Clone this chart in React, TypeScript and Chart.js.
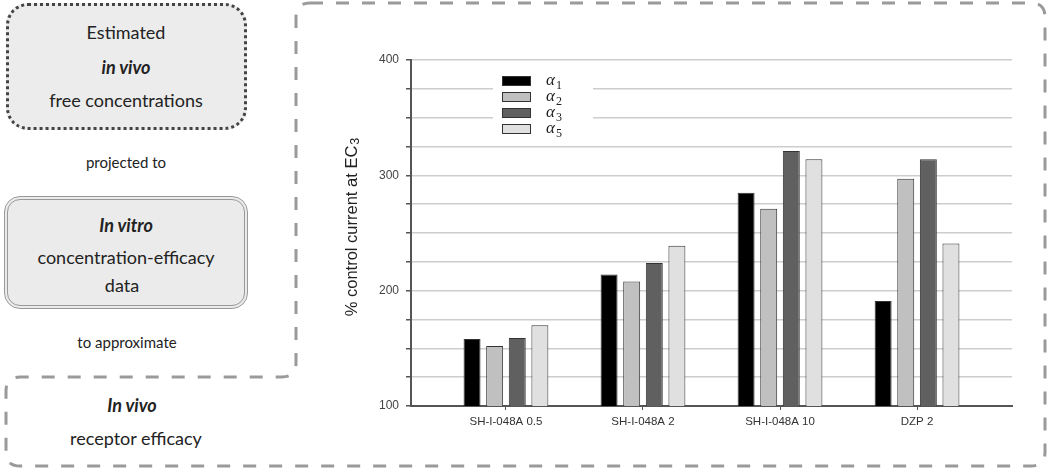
import React, { useEffect, useRef } from "react";
import { Chart, registerables } from "chart.js";

Chart.register(...registerables);

const categories = ["SH-I-048A 0.5", "SH-I-048A 2", "SH-I-048A 10", "DZP 2"];
const seriesNames = ["1", "2", "3", "5"];
const alpha1 = [158, 214, 285, 191];
const alpha2 = [152, 208, 271, 297];
const alpha3 = [159, 224, 321, 314];
const alpha5 = [170, 239, 314, 241];
const seriesColors = ["#000000", "#c0c0c0", "#606060", "#e0e0e0"];
const yTickLabels = [100, 200, 300, 400];

const legendPlugin = {
  id: "customLegend",
  afterDatasetsDraw(chart: any) {
    const ctx = chart.ctx;
    ctx.save();
    ctx.fillStyle = "#ffffff";
    ctx.fillRect(163, 70, 100, 70);
    const rows = [81, 97, 113, 129];
    chart.data.datasets.forEach((ds: any, i: number) => {
      const y = rows[i];
      ctx.fillStyle = ds.backgroundColor;
      ctx.fillRect(172, y - 5, 29, 10);
      ctx.strokeStyle = "#333";
      ctx.lineWidth = 1;
      ctx.strokeRect(172.5, y - 4.5, 28, 9);
      ctx.fillStyle = "#222";
      ctx.textBaseline = "alphabetic";
      ctx.textAlign = "left";
      ctx.font = "italic 17px 'Liberation Serif'";
      ctx.fillText("α", 216, y + 4);
      const w = ctx.measureText("α").width;
      ctx.font = "12px 'Liberation Serif'";
      ctx.fillText(seriesNames[i], 216 + w + 1, y + 8);
    });
    ctx.restore();
  },
};

const yTitlePlugin = {
  id: "yTitle",
  afterDraw(chart: any) {
    const ctx = chart.ctx;
    ctx.save();
    ctx.translate(22, 227);
    ctx.rotate(-Math.PI / 2);
    ctx.fillStyle = "#222";
    ctx.textBaseline = "middle";
    ctx.textAlign = "left";
    const main = "% control current at EC";
    ctx.font = "16.5px 'Liberation Sans', Arial";
    const w1 = ctx.measureText(main).width;
    ctx.font = "12.5px 'Liberation Sans', Arial";
    const w2 = ctx.measureText("3").width;
    const start = -(w1 + w2 + 1) / 2;
    ctx.font = "16.5px 'Liberation Sans', Arial";
    ctx.fillText(main, start, 0);
    ctx.font = "12.5px 'Liberation Sans', Arial";
    ctx.fillText("3", start + w1 + 1, 4);
    ctx.restore();
  },
};

function ChartPanel() {
  const ref = useRef<HTMLCanvasElement | null>(null);
  useEffect(() => {
    if (!ref.current) return;
    const series = [alpha1, alpha2, alpha3, alpha5];
    const chart = new Chart(ref.current, {
      type: "bar",
      data: {
        datasets: series.map((vals, i) => ({
          label: "α" + seriesNames[i],
          data: vals.map((v, j) => ({ x: j, y: v })),
          backgroundColor: seriesColors[i],
          borderColor: "#333333",
          borderWidth: 1,
          categoryPercentage: 0.66,
          barPercentage: 0.75,
        })),
      },
      options: {
        animation: false,
        responsive: false,
        maintainAspectRatio: false,
        layout: { padding: { left: 0, right: 38, top: 60, bottom: 0 } },
        plugins: { legend: { display: false }, tooltip: { enabled: false } },
        scales: {
          x: {
            type: "linear",
            min: -0.693,
            max: 3.693,
            offset: false,
            afterBuildTicks: (scale: any) => {
              scale.ticks = categories.map((_, i) => ({ value: i }));
            },
            afterFit: (scale: any) => {
              scale.height = 64;
            },
            ticks: {
              autoSkip: false,
              maxRotation: 0,
              padding: 5,
              color: "#333",
              font: { family: "'Liberation Sans', Arial", size: 11.5 },
              callback: (v: any) => categories[Math.round(Number(v))] ?? "",
            },
            grid: {
              offset: false,
              drawOnChartArea: false,
              drawTicks: true,
              tickLength: 4,
              color: "#555",
            },
            border: { color: "#555", width: 2 },
          },
          y: {
            min: 100,
            max: 400,
            afterFit: (scale: any) => {
              scale.width = 81;
            },
            ticks: {
              stepSize: 25,
              padding: 7,
              color: "#444",
              font: { family: "'Liberation Sans', Arial", size: 12 },
              callback: (v: any) => (yTickLabels.includes(Number(v)) ? String(v) : ""),
            },
            grid: {
              color: "#cdcdcd",
              lineWidth: 1.5,
              tickLength: 5,
              tickColor: "#555",
              tickWidth: 1.5,
            },
            border: { color: "#555", width: 2 },
          },
        },
      },
      plugins: [legendPlugin, yTitlePlugin],
    } as any);
    return () => chart.destroy();
  }, []);
  return (
    <canvas
      ref={ref}
      width={720}
      height={470}
      style={{ position: "absolute", left: 330, top: 0, width: 720, height: 470 }}
    />
  );
}

function Line(props: { cx: number; cy: number; text: string; size: number; bi?: boolean }) {
  const lh = 24;
  return (
    <div
      style={{
        position: "absolute",
        left: props.cx - 150,
        top: props.cy - lh / 2,
        width: 300,
        height: lh,
        lineHeight: lh + "px",
        textAlign: "center",
        fontFamily: "Lato, 'Open Sans', sans-serif",
        fontSize: props.size,
        fontWeight: props.bi ? 700 : 400,
        fontStyle: props.bi ? "italic" : "normal",
        color: "#222",
        whiteSpace: "nowrap",
      }}
    >
      {props.text}
    </div>
  );
}

export default function App() {
  const r = 14;
  const path = `M ${296 + r} 3 H ${1045 - r} Q 1045 3 1045 ${3 + r} V ${466 - r} Q 1045 466 ${1045 - r} 466 H ${6 + r} Q 6 466 6 ${466 - r} V ${377 + r} Q 6 377 ${6 + r} 377 H ${296 - r} Q 296 377 296 ${377 - r} V ${3 + r} Q 296 3 ${296 + r} 3 Z`;
  return (
    <div
      style={{
        position: "absolute",
        left: 0,
        top: 0,
        width: 1050,
        height: 470,
        background: "#ffffff",
        overflow: "hidden",
      }}
    >
      <svg width={1050} height={470} style={{ position: "absolute", left: 0, top: 0 }}>
        <path d={path} fill="none" stroke="#9a9a9a" strokeWidth={3} strokeDasharray="13 13" />
      </svg>
      <div
        style={{
          position: "absolute",
          left: 6,
          top: 3,
          width: 235,
          height: 121,
          border: "3px dotted #444",
          borderRadius: 22,
          background: "#ececec",
        }}
      />
      <Line cx={126} cy={32} text="Estimated" size={18} />
      <Line cx={126} cy={67} text="in vivo" size={18} bi />
      <Line cx={126} cy={100} text="free concentrations" size={18} />
      <Line cx={126} cy={162} text="projected to" size={15} />
      <div
        style={{
          position: "absolute",
          left: 4,
          top: 196,
          width: 236,
          height: 105,
          border: "4px double #999",
          borderRadius: 16,
          background: "#ebebeb",
        }}
      />
      <Line cx={126} cy={225} text="In vitro" size={18} bi />
      <Line cx={126} cy={257} text="concentration-efficacy" size={18} />
      <Line cx={122} cy={285} text="data" size={18} />
      <Line cx={127} cy={342} text="to approximate" size={15} />
      <Line cx={132} cy={405} text="In vivo" size={18} bi />
      <Line cx={136} cy={438} text="receptor efficacy" size={18} />
      <ChartPanel />
    </div>
  );
}
